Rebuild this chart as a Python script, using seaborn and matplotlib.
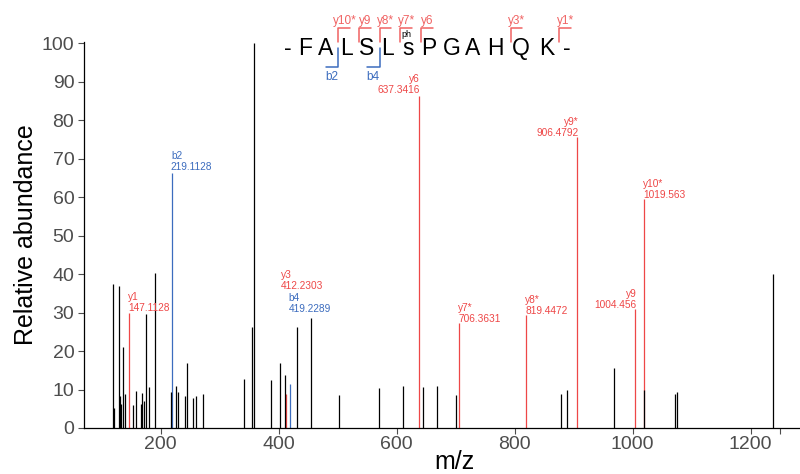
import matplotlib
matplotlib.use('Agg')
import matplotlib.pyplot as plt
import pandas as pd
import seaborn as sns

# unannotated peaks (m/z, relative abundance)
peak_mz = [120.0, 121.0, 129.7, 131.5, 133.0, 137.0, 139.8, 153.9, 158.5, 166.4,
           169.2, 172.5, 175.4, 180.0, 191.2, 218.3, 225.8, 229.7, 241.0, 245.4,
           254.6, 259.3, 272.0, 341.9, 355.1, 359.0, 388.1, 401.7, 410.5, 430.8,
           455.1, 502.0, 570.8, 611.5, 644.4, 669.2, 700.3, 879.3, 889.0, 968.1,
           1019.8, 1071.5, 1075.9, 1237.6]
peak_int = [37.4, 5.3, 37.0, 8.2, 6.3, 21.0, 8.8, 5.9, 9.6, 6.3,
            9.0, 7.0, 29.6, 10.7, 40.3, 9.3, 10.9, 9.4, 8.3, 17.0,
            7.8, 8.4, 8.8, 12.8, 26.2, 100.0, 12.5, 17.0, 13.8, 26.3,
            28.5, 8.6, 10.3, 11.0, 10.7, 11.0, 8.6, 8.8, 10.0, 15.6,
            10.0, 8.8, 9.3, 40.0]

# annotated fragment ions
ion_labels = ['y1', 'b2', 'y3', 'b4', 'y6', 'y7*', 'y8*', 'y9*', 'y9', 'y10*']
ion_mz = [147.1128, 219.1128, 412.2303, 419.2289, 637.3416, 706.3631,
          819.4472, 906.4792, 1004.456, 1019.563]
ion_int = [30.0, 66.3, 8.8, 11.3, 86.3, 27.4, 29.3, 75.7, 31.0, 59.5]
ion_type = ['y', 'b', 'y', 'b', 'y', 'y', 'y', 'y', 'y', 'y']

# peptide sequence and matched cleavage sites (after residue n)
sequence = ['-', 'F', 'A', 'L', 'S', 'L', 's', 'P', 'G', 'A', 'H', 'Q', 'K', '-']
y_frags = ['y10*', 'y9', 'y8*', 'y7*', 'y6', 'y3*', 'y1*']
y_sites = [2, 3, 4, 5, 6, 10, 12]
b_frags = ['b2', 'b4']
b_sites = [2, 4]

RED = '#EE4747'
BLUE = '#3C6CBE'
GREY = '#4D4D4D'

sns.set_theme(style='ticks')
plt.rcParams['font.family'] = ['Liberation Sans', 'DejaVu Sans']

fig = plt.figure(figsize=(8, 4.74), dpi=100)
ax = fig.add_axes([84 / 800, 1 - 428 / 474, 716 / 800, (428 - 41.5) / 474])

ions = pd.DataFrame({'label': ion_labels, 'mz': ion_mz, 'int': ion_int, 'type': ion_type})
ion_colors = ions['type'].map({'y': RED, 'b': BLUE})
ax.vlines(ions['mz'], 0, ions['int'], colors=ion_colors, lw=0.9)
ax.vlines(peak_mz, 0, peak_int, colors='black', lw=0.9)

# label placement: (height of text bottom, alignment, x shift)
label_pos = {'y1': (29.9, 'left', -1.5), 'b2': (66.5, 'left', -1.5),
             'y3': (35.6, 'left', -7.5), 'b4': (29.6, 'left', -2.0),
             'y6': (86.5, 'right', 1.5), 'y7*': (27.1, 'left', -1.5),
             'y8*': (29.1, 'left', -1.5), 'y9*': (75.4, 'right', 1.5),
             'y9': (30.7, 'right', 2.5), 'y10*': (59.2, 'left', -1.5)}
for _, r in ions.iterrows():
    h, ha, dx = label_pos[r['label']]
    ax.text(r['mz'] + dx, h, f"{r['label']}\n{r['mz']}", ha=ha, va='bottom',
            fontsize=7.3, color=RED if r['type'] == 'y' else BLUE,
            linespacing=1.1, clip_on=False)

ax.set_xlim(70.3, 1283.9)
ax.set_ylim(0, 100.4)
ax.set_xticks([200, 400, 600, 800, 1000, 1200])
ax.set_xticks([1250], minor=True)
ax.set_yticks(range(0, 101, 10))
ax.tick_params(axis='both', colors=GREY, labelsize=14, length=4, width=0.8)
ax.tick_params(axis='x', which='minor', length=4, width=0.8, color=GREY)
ax.tick_params(axis='x', pad=1.5)
ax.tick_params(axis='y', pad=3)
for s in ['left', 'bottom']:
    ax.spines[s].set_color('black')
    ax.spines[s].set_linewidth(0.9)
sns.despine(ax=ax)
ax.set_xlabel('m/z', fontsize=18, color='black')
ax.set_ylabel('Relative abundance', fontsize=18, color='black')
ax.xaxis.set_label_coords((454 - 84) / 716, -0.058)
ax.yaxis.set_label_coords(-0.064, 0.5)

# sequence cartoon drawn in pixel coordinates on an overlay
ov = fig.add_axes([0, 0, 1, 1])
ov.set_xlim(0, 800)
ov.set_ylim(474, 0)
ov.axis('off')
ov.patch.set_alpha(0)
letter_x = [288.3, 305.3, 325.7, 346.0, 366.7, 387.3, 408.3, 429.0, 451.7,
            472.7, 495.7, 520.7, 546.7, 566.7]
for ch, x in zip(sequence, letter_x):
    ov.text(x, 48, ch, ha='center', va='center', fontsize=16.5, color='black')
ov.text(406, 34.5, 'ph', ha='center', va='center', fontsize=6.5, color='black')

def cut_x(n):
    return (letter_x[n] + letter_x[n + 1]) / 2 + 2.5

for lab, n in zip(y_frags, y_sites):
    x = cut_x(n)
    ov.plot([x, x, x + 11.7], [41.7, 28.3, 28.3], color='#F06262', lw=1.1)
    ov.text(x + 6, 20.5, lab, ha='center', va='center', fontsize=8.5, color='#F06262')
for lab, n in zip(b_frags, b_sites):
    x = cut_x(n)
    ov.plot([x, x, x - 12.3], [48.3, 66.7, 66.7], color=BLUE, lw=1.1)
    ov.text(x - 6.5, 76.7, lab, ha='center', va='center', fontsize=8.5, color=BLUE)

fig.savefig('out.png', dpi=100)
